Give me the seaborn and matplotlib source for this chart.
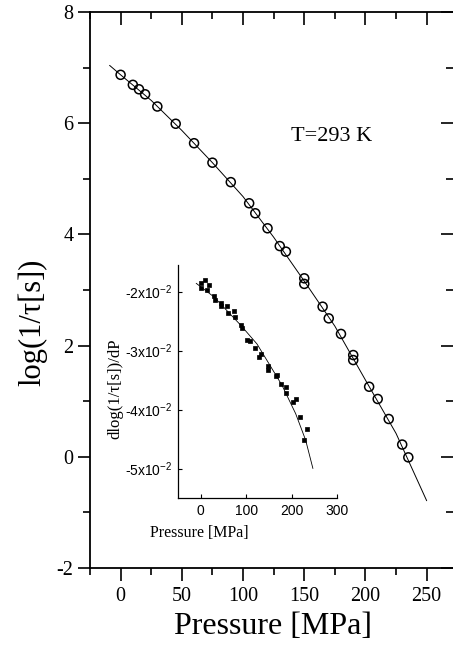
import numpy as np
import pandas as pd
import matplotlib
matplotlib.use('Agg')
import matplotlib.pyplot as plt
import seaborn as sns
from matplotlib.ticker import MultipleLocator, FixedLocator

# Main panel: log(1/tau) vs pressure at T = 293 K
pressure = [0, 10, 15, 20, 30, 45, 60, 75, 90, 105, 110, 120, 130, 135,
            150, 150, 165, 170, 180, 190, 190, 203, 210, 219, 230, 235]
log_rate = [6.87, 6.69, 6.61, 6.52, 6.30, 5.99, 5.64, 5.29, 4.94, 4.56, 4.38, 4.11, 3.79, 3.69,
            3.21, 3.11, 2.70, 2.49, 2.21, 1.83, 1.74, 1.26, 1.04, 0.68, 0.22, -0.01]

# fitted curve
fit_p = [-9, 0, 25, 50, 75, 100, 125, 150, 175, 200, 225, 250]
fit_log = [7.04, 6.87, 6.41, 5.87, 5.29, 4.68, 3.95, 3.16, 2.35, 1.38, 0.42, -0.79]

# Inset: derivative dlog(1/tau)/dP
deriv_p = [0, 1, 9, 13, 18, 29, 31, 44, 44, 58, 61, 73, 75, 88, 90, 102, 108,
           119, 128, 133, 148, 148, 165, 168, 177, 188, 188, 203, 209, 218, 227, 233]
deriv_val = [-0.0185, -0.0194, -0.0180, -0.0197, -0.0189, -0.0208, -0.0215, -0.0219,
             -0.0225, -0.0225, -0.0236, -0.0233, -0.0244, -0.0256, -0.0262, -0.0282,
             -0.0284, -0.0296, -0.0311, -0.0306, -0.0326, -0.0333, -0.0344, -0.0342,
             -0.0356, -0.0362, -0.0372, -0.0387, -0.0382, -0.0413, -0.0451, -0.0433]

fit_dp = [-10, 29, 88, 124, 150, 179, 209, 231, 247]
fit_dval = [-0.0186, -0.0209, -0.0257, -0.0289, -0.0322, -0.0359, -0.0407, -0.0452, -0.0500]

inset_yticks = [-0.02, -0.03, -0.04, -0.05]
inset_ylabels = ['-2x10$^{-2}$', '-3x10$^{-2}$', '-4x10$^{-2}$', '-5x10$^{-2}$']

sns.set_theme(style='ticks')
plt.rcParams['font.family'] = ['Liberation Serif', 'DejaVu Serif']
plt.rcParams['mathtext.fontset'] = 'custom'
plt.rcParams['mathtext.rm'] = 'Liberation Sans'
plt.rcParams['mathtext.default'] = 'regular'
plt.rcParams['axes.unicode_minus'] = False
plt.rcParams['text.color'] = 'black'
plt.rcParams['axes.labelcolor'] = 'black'

fig = plt.figure(figsize=(4.53, 6.52), dpi=100)
ax = fig.add_axes([90 / 453, 1 - 568 / 652, 363 / 453, 556 / 652])

sns.lineplot(x=fit_p, y=fit_log, ax=ax, color='black', lw=0.7, estimator=None)
sns.scatterplot(x=pressure, y=log_rate, ax=ax, marker='o', s=42,
                facecolors='none', edgecolor='black', linewidth=1.1, zorder=3)

ax.set_xlim(-25, 271.5)
ax.set_ylim(-2, 8)
ax.xaxis.set_major_locator(MultipleLocator(50))
ax.xaxis.set_minor_locator(MultipleLocator(25))
ax.yaxis.set_major_locator(MultipleLocator(2))
ax.yaxis.set_minor_locator(MultipleLocator(1))
for s in ['left', 'bottom', 'top']:
    ax.spines[s].set_linewidth(1.3)
    ax.spines[s].set_color('black')
ax.spines['right'].set_visible(False)
ax.tick_params(which='major', direction='out', length=9, width=1.2, labelsize=14.5,
               colors='black', pad=3)
ax.tick_params(which='minor', direction='out', length=5, width=1.2, colors='black')
ax.tick_params(which='both', top=True, right=True)
ax.tick_params(axis='x', which='major', pad=5)
# top and right ticks point inward
for t in ax.xaxis.get_major_ticks() + ax.xaxis.get_minor_ticks():
    t.tick2line.set_marker(3)
for t in ax.yaxis.get_major_ticks() + ax.yaxis.get_minor_ticks():
    t.tick2line.set_marker(0)

ax.set_xlabel('Pressure [MPa]', fontsize=23)
ax.xaxis.set_label_coords(0.505, -0.106)
ax.xaxis.label.set_va('center')
ax.set_ylabel('log(1/τ[s])', fontsize=22)
ax.yaxis.set_label_coords(-0.157, 0.442)
ax.yaxis.label.set_va('center')

ax.text(139, 5.76, 'T=293 K', fontsize=16, ha='left', va='center', color='black')

# inset
ins = fig.add_axes([178 / 453, 1 - 498 / 652, 159 / 453, 233 / 652])
sns.lineplot(x=fit_dp, y=fit_dval, ax=ins, color='black', lw=0.6, estimator=None)
sns.scatterplot(x=deriv_p, y=deriv_val, ax=ins, marker='s', s=9,
                color='black', edgecolor='black', linewidth=0.5, zorder=3)
ins.set_xlim(-50, 300)
ins.set_ylim(-0.055, -0.0155)
ins.xaxis.set_major_locator(FixedLocator([0, 100, 200, 300]))
ins.set_yticks(inset_yticks)
ins.set_yticklabels(inset_ylabels)
ins.spines['top'].set_visible(False)
ins.spines['right'].set_visible(False)
for s in ['left', 'bottom']:
    ins.spines[s].set_linewidth(0.9)
    ins.spines[s].set_color('black')
ins.patch.set_alpha(0)
ins.tick_params(direction='in', length=3, width=0.8, labelsize=10, colors='black', pad=4)
for lab in ins.get_xticklabels() + ins.get_yticklabels():
    lab.set_family(['Liberation Sans', 'DejaVu Sans'])
ins.set_xlabel('Pressure [MPa]', fontsize=11.5)
ins.xaxis.set_label_coords(0.132, -0.15)
ins.xaxis.label.set_va('center')
ins.set_ylabel('dlog(1/τ[s])/dP', fontsize=12)
ins.yaxis.set_label_coords(-0.396, 0.468)
ins.yaxis.label.set_va('center')

fig.savefig('out.png', dpi=100)
